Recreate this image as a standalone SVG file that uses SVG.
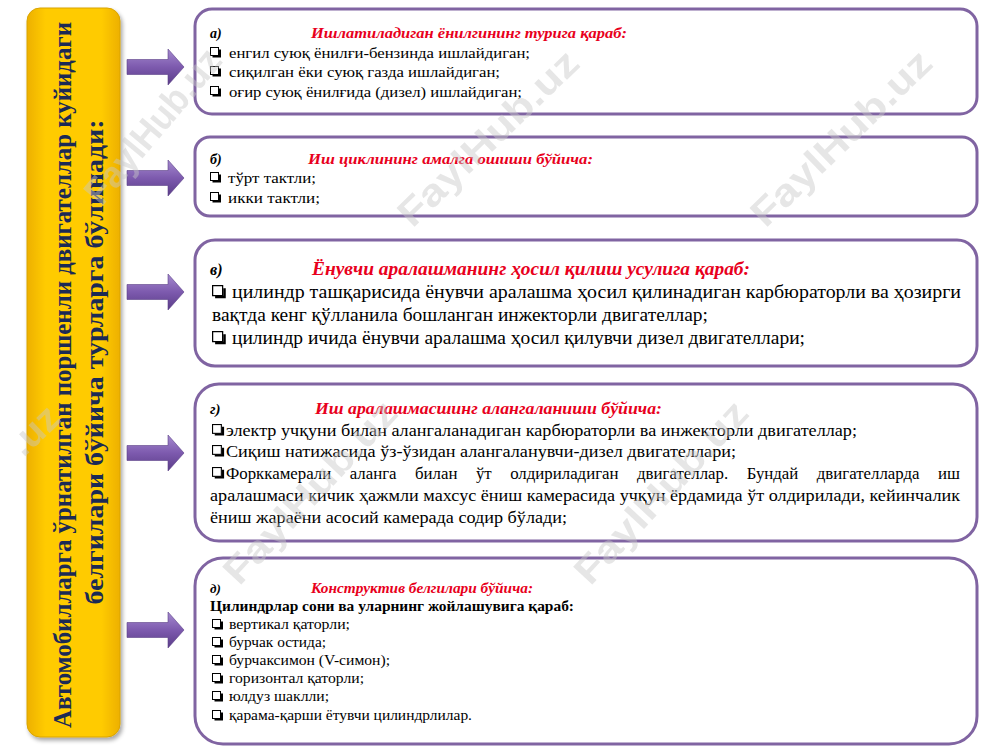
<svg xmlns="http://www.w3.org/2000/svg" width="1000" height="750" viewBox="0 0 1000 750">
<defs>
<style>
.box{fill:#fff;stroke:#8064A2;stroke-width:3}
.t{font-family:"Liberation Serif","Times New Roman",serif;fill:#000}
.lbl{font-family:"Liberation Serif","Times New Roman",serif;font-style:italic;font-weight:bold;fill:#000}
.ttl{font-family:"Liberation Serif","Times New Roman",serif;font-style:italic;font-weight:bold;fill:#E8001C}
.vert{font-family:"Liberation Serif","Times New Roman",serif;font-weight:bold;fill:#1B2A55;font-size:25px}
.wm{font-family:"Liberation Sans",Arial,sans-serif;font-weight:bold;font-size:38px;fill:#c8c8c8;opacity:0.45}
.arrow{fill:url(#ag);stroke:#5b3f86;stroke-width:0.6}
</style>
<linearGradient id="yg" x1="0" y1="0" x2="1" y2="0">
<stop offset="0" stop-color="#EDB000"/>
<stop offset="0.2" stop-color="#FFCB05"/>
<stop offset="0.8" stop-color="#FFCB05"/>
<stop offset="1" stop-color="#EDB000"/>
</linearGradient>
<linearGradient id="ag" x1="0" y1="0" x2="0" y2="1">
<stop offset="0" stop-color="#A58ACF"/>
<stop offset="0.5" stop-color="#7D5AAE"/>
<stop offset="1" stop-color="#5A3C88"/>
</linearGradient>
<filter id="sh" x="-10%" y="-10%" width="130%" height="130%">
<feGaussianBlur in="SourceAlpha" stdDeviation="2"/>
<feOffset dx="2" dy="3" result="o"/>
<feComponentTransfer><feFuncA type="linear" slope="0.35"/></feComponentTransfer>
<feMerge><feMergeNode/><feMergeNode in="SourceGraphic"/></feMerge>
</filter>
<g id="cb">
<path d="M2.5 9.5 H10 V2.5" fill="none" stroke="#000" stroke-width="2"/>
<rect x="0.5" y="0.5" width="8" height="8" fill="#fff" stroke="#000" stroke-width="1"/>
</g>
<path id="arr" d="M0 -7.5 H41 V-18 L57 0 L41 18 V7.5 H0 Z"/>
</defs>

<g id="main-node">
<rect x="27" y="8" width="93" height="729" rx="13" fill="url(#yg)" stroke="#D9A400" stroke-width="1" filter="url(#sh)"/>
<text class="vert" transform="translate(71,375) rotate(-90)" text-anchor="middle" textLength="706" lengthAdjust="spacingAndGlyphs">Автомобилларга ўрнатилган поршенли двигателлар куйидаги</text>
<text class="vert" transform="translate(103,362) rotate(-90)" text-anchor="middle" textLength="485" lengthAdjust="spacingAndGlyphs">белгилари бўйича турларга бўлинади:</text>
</g>

<g id="connectors">
<use href="#arr" class="arrow" transform="translate(127,67)"/>
<use href="#arr" class="arrow" transform="translate(127,178)"/>
<use href="#arr" class="arrow" transform="translate(127,292)"/>
<use href="#arr" class="arrow" transform="translate(127,453)"/>
<use href="#arr" class="arrow" transform="translate(127,630)"/>
</g>

<g id="node-a">
<rect class="box" x="195" y="9" width="782" height="105" rx="17"/>
<text class="lbl" x="210" y="38" font-size="14">а)</text>
<text class="ttl" x="311" y="38" font-size="15" textLength="316" lengthAdjust="spacingAndGlyphs">Ишлатиладиган ёнилгининг турига қараб:</text>
<use href="#cb" transform="translate(210,47)"/>
<text class="t" x="229" y="58" font-size="15" textLength="301" lengthAdjust="spacingAndGlyphs">енгил суюқ ёнилғи-бензинда ишлайдиган;</text>
<use href="#cb" transform="translate(210,66)"/>
<text class="t" x="229" y="77" font-size="15" textLength="271" lengthAdjust="spacingAndGlyphs">сиқилган ёки суюқ газда ишлайдиган;</text>
<use href="#cb" transform="translate(210,86)"/>
<text class="t" x="229" y="97" font-size="15" textLength="293" lengthAdjust="spacingAndGlyphs">оғир суюқ ёнилғида (дизел) ишлайдиган;</text>
</g>

<g id="node-b">
<rect class="box" x="195" y="137" width="782" height="79" rx="15"/>
<text class="lbl" x="210" y="164" font-size="14">б)</text>
<text class="ttl" x="308" y="164" font-size="15" textLength="285" lengthAdjust="spacingAndGlyphs">Иш циклининг амалга ошиши бўйича:</text>
<use href="#cb" transform="translate(210,172)"/>
<text class="t" x="228" y="183" font-size="15" textLength="88" lengthAdjust="spacingAndGlyphs">тўрт тактли;</text>
<use href="#cb" transform="translate(210,192)"/>
<text class="t" x="228" y="203" font-size="15" textLength="92" lengthAdjust="spacingAndGlyphs">икки тактли;</text>
</g>

<g id="node-c">
<rect class="box" x="195" y="240" width="782" height="126" rx="20"/>
<text class="lbl" x="210" y="275" font-size="16">в)</text>
<text class="ttl" x="312" y="275" font-size="18" textLength="438" lengthAdjust="spacingAndGlyphs">Ёнувчи аралашманинг ҳосил қилиш усулига қараб:</text>
<use href="#cb" transform="translate(212,285) scale(1.25)"/>
<text class="t" x="232" y="298" font-size="18" textLength="729" lengthAdjust="spacingAndGlyphs">цилиндр ташқарисида ёнувчи аралашма ҳосил қилинадиган карбюраторли ва ҳозирги</text>
<text class="t" x="212" y="321" font-size="18" textLength="496" lengthAdjust="spacingAndGlyphs">вақтда кенг қўлланила бошланган инжекторли двигателлар;</text>
<use href="#cb" transform="translate(212,331) scale(1.25)"/>
<text class="t" x="232" y="344" font-size="18" textLength="573" lengthAdjust="spacingAndGlyphs">цилиндр ичида ёнувчи аралашма ҳосил қилувчи дизел двигателлари;</text>
</g>

<g id="node-d">
<rect class="box" x="195" y="384" width="782" height="157" rx="24"/>
<text class="lbl" x="210" y="414" font-size="15">г)</text>
<text class="ttl" x="315" y="414" font-size="17" textLength="347" lengthAdjust="spacingAndGlyphs">Иш аралашмасшинг алангаланиши бўйича:</text>
<use href="#cb" transform="translate(212,424) scale(1.1)"/>
<text class="t" x="226" y="436" font-size="16.5" textLength="631" lengthAdjust="spacingAndGlyphs">электр учқуни билан алангаланадиган карбюраторли ва инжекторли двигателлар;</text>
<use href="#cb" transform="translate(212,445) scale(1.1)"/>
<text class="t" x="226" y="457" font-size="16.5" textLength="510" lengthAdjust="spacingAndGlyphs">Сиқиш натижасида ўз-ўзидан алангаланувчи-дизел двигателлари;</text>
<use href="#cb" transform="translate(212,467) scale(1.1)"/>
<text class="t" x="226" y="479" font-size="16.5" word-spacing="14" textLength="734" lengthAdjust="spacingAndGlyphs">Форккамерали аланга билан ўт олдириладиган двигателлар. Бундай двигателларда иш</text>
<text class="t" x="210" y="501" font-size="16.5" textLength="750" lengthAdjust="spacingAndGlyphs">аралашмаси кичик ҳажмли махсус ёниш камерасида учқун ёрдамида ўт олдирилади, кейинчалик</text>
<text class="t" x="210" y="523" font-size="16.5" textLength="357" lengthAdjust="spacingAndGlyphs">ёниш жараёни асосий камерада содир бўлади;</text>
</g>

<g id="node-e">
<rect class="box" x="195" y="558" width="782" height="186" rx="28"/>
<text class="lbl" x="210" y="593" font-size="13">д)</text>
<text class="ttl" x="311" y="593" font-size="14" textLength="222" lengthAdjust="spacingAndGlyphs">Конструктив белгилари бўйича:</text>
<text class="t" x="210" y="611" font-size="14" font-weight="bold" textLength="364" lengthAdjust="spacingAndGlyphs">Цилиндрлар сони ва уларнинг жойлашувига қараб:</text>
<use href="#cb" transform="translate(212,619)"/>
<text class="t" x="229" y="629" font-size="14" textLength="121" lengthAdjust="spacingAndGlyphs">вертикал қаторли;</text>
<use href="#cb" transform="translate(212,637)"/>
<text class="t" x="229" y="647" font-size="14" textLength="97" lengthAdjust="spacingAndGlyphs">бурчак остида;</text>
<use href="#cb" transform="translate(212,655)"/>
<text class="t" x="229" y="665" font-size="14" textLength="161" lengthAdjust="spacingAndGlyphs">бурчаксимон (V-симон);</text>
<use href="#cb" transform="translate(212,673)"/>
<text class="t" x="229" y="683" font-size="14" textLength="135" lengthAdjust="spacingAndGlyphs">горизонтал қаторли;</text>
<use href="#cb" transform="translate(212,691)"/>
<text class="t" x="229" y="701" font-size="14" textLength="100" lengthAdjust="spacingAndGlyphs">юлдуз шаклли;</text>
<use href="#cb" transform="translate(212,710)"/>
<text class="t" x="229" y="720" font-size="14" textLength="243" lengthAdjust="spacingAndGlyphs">қарама-қарши ётувчи цилиндрлилар.</text>
</g>

<g id="watermarks">
<text class="wm" transform="translate(155,128) rotate(-50)" text-anchor="middle" dominant-baseline="middle" textLength="190" lengthAdjust="spacingAndGlyphs">FaylHub.uz</text>
<text class="wm" transform="translate(490,140) rotate(-44)" text-anchor="middle" dominant-baseline="middle" textLength="235" lengthAdjust="spacingAndGlyphs">FaylHub.uz</text>
<text class="wm" transform="translate(843,140) rotate(-44)" text-anchor="middle" dominant-baseline="middle" textLength="235" lengthAdjust="spacingAndGlyphs">FaylHub.uz</text>
<text class="wm" transform="translate(36,432) rotate(-44)" text-anchor="middle" dominant-baseline="middle" textLength="54" lengthAdjust="spacingAndGlyphs">.uz</text>
<text class="wm" transform="translate(312,494) rotate(-47)" text-anchor="middle" dominant-baseline="middle" textLength="235" lengthAdjust="spacingAndGlyphs">FaylHub.uz</text>
<text class="wm" transform="translate(663,494) rotate(-47)" text-anchor="middle" dominant-baseline="middle" textLength="235" lengthAdjust="spacingAndGlyphs">FaylHub.uz</text>
</g>
</svg>
